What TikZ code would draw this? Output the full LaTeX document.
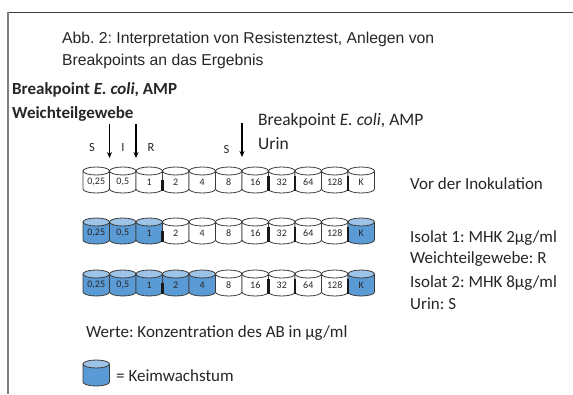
\documentclass[tikz,border=0pt]{standalone}
\usepackage{fontspec}
\setmainfont{Carlito}
\newfontfamily\arialfam{Liberation Sans}
\usetikzlibrary{arrows.meta}
\definecolor{growbody}{HTML}{5B9BD5}
\definecolor{growtop}{HTML}{9DC3E6}
\definecolor{tubeedge}{HTML}{3A3A3A}
\definecolor{inktext}{HTML}{262626}
\tikzset{
  tubeline/.style={draw=tubeedge, line width=0.8pt},
  seam/.style={draw=black!90, line width=2.2pt},
  tubelabel/.style={inner sep=0pt, font=\fontsize{10}{12}\selectfont, text=inktext},
  plain/.style={inner sep=0pt, anchor=base west, text=inktext, font=\fontsize{17}{20}\selectfont},
  titletext/.style={inner sep=0pt, anchor=base west, text=inktext, font=\arialfam\fontsize{15.75}{19}\selectfont},
  bplabel/.style={inner sep=0pt, anchor=base, text=inktext, font=\fontsize{12.5}{14}\selectfont},
  bparrow/.style={-{Stealth[length=6pt,width=5pt]}, line width=1.4pt, draw=black},
}
% tube: #1 node name, #2 left x, #3 top y, #4 label, #5 body colour, #6 top colour
\newcommand\tube[6]{%
  \filldraw[tubeline, fill=#5] (#2,#3+4) -- (#2,#3+22)
    arc[start angle=180, end angle=360, x radius=13.25pt, y radius=4pt]
    -- (#2+26.5,#3+4) -- cycle;
  \filldraw[tubeline, fill=#6] (#2+13.25,#3+4) ellipse[x radius=13.25pt, y radius=4pt];
  \node[tubelabel] (#1) at (#2+13.25,#3+15) {#4};
}
% dark seams between neighbouring tubes
\newcommand\seams[1]{%
  \foreach \k/\dy in {3/13, 7/9, 8/9, 10/9}
    \draw[seam] (83+\k*26.5,#1+\dy) -- (83+\k*26.5,#1+24);
}
% one row of dilution tubes; #3 = how many of them show growth
\newcommand\tuberow[3]{%
  \foreach \lab [count=\i from 0] in {{0,25},{0,5},1,2,4,8,16,32,64,128} {
    \ifnum\i<#3
      \tube{t#1-\i}{83+\i*26.5}{#2}{\lab}{growbody}{growtop}
    \else
      \tube{t#1-\i}{83+\i*26.5}{#2}{\lab}{white}{white}
    \fi
  }
}
\frenchspacing
\begin{document}
\begin{tikzpicture}[x=1pt, y=-1pt]
\useasboundingbox (0,0) rectangle (573,394);
\fill[white] (0,0) rectangle (573,394);

% frame
\draw[draw=black!75, line width=1.5pt] (7,12.5) -- (573,12.5);
\draw[draw=black!50, line width=2pt] (7.5,12) -- (7.5,394);

% heading
\node[titletext] (title1) at (62,43) {Abb. 2: Interpretation von Resistenztest, Anlegen von};
\node[titletext] (title2) at (62,65) {Breakpoints an das Ergebnis};

% breakpoint captions
\node[plain, font=\bfseries\fontsize{17}{20}\selectfont] (bpw1) at (12,94) {Breakpoint \textit{E. coli}, AMP};
\node[plain, font=\bfseries\fontsize{17}{20}\selectfont] (bpw2) at (12,118) {Weichteilgewebe};
\node[plain, font=\fontsize{17.5}{20}\selectfont] (bpu1) at (258,125) {Breakpoint \textit{E. coli}, AMP};
\node[plain, font=\fontsize{17.5}{20}\selectfont] (bpu2) at (258,149) {Urin};

% tubes
\tuberow{1}{167}{0}
\tube{t1-K}{348}{167}{K}{white}{white}
\seams{167}
\tuberow{2}{218}{3}
\tube{t2-K}{348}{218}{K}{growbody}{growtop}
\seams{218}
\tuberow{3}{270}{5}
\tube{t3-K}{348}{270}{K}{growbody}{growtop}
\seams{270}

% breakpoint arrows
\coordinate (a1s) at (109.5,124); \coordinate (a1e) at (109.5,158);
\coordinate (a2s) at (136,124);   \coordinate (a2e) at (136,158);
\coordinate (a3s) at (242,123);   \coordinate (a3e) at (242,157);
\draw[bparrow] (a1s) -- (a1e);
\draw[bparrow] (a2s) -- (a2e);
\draw[bparrow] (a3s) -- (a3e);
\node[bplabel] (lS1) at (92,151) {S};
\node[bplabel] (lI) at (123,151) {I};
\node[bplabel] (lR) at (151,151) {R};
\node[bplabel] (lS2) at (226.5,153) {S};

% right-hand descriptions
\node[plain] (pre) at (410,189) {Vor der Inokulation};
\node[plain] (iso1a) at (410,242) {Isolat 1: MHK 2µg/ml};
\node[plain] (iso1b) at (410,263) {Weichteilgewebe: R};
\node[plain] (iso2a) at (410,287) {Isolat 2: MHK 8µg/ml};
\node[plain] (iso2b) at (410,309) {Urin: S};

% notes and legend
\node[plain] (werte) at (86,337) {Werte: Konzentration des AB in µg/ml};
\tube{legend}{83}{360}{}{growbody}{growtop}
\node[plain] (legtext) at (116,381) {= Keimwachstum};
\end{tikzpicture}
\end{document}
